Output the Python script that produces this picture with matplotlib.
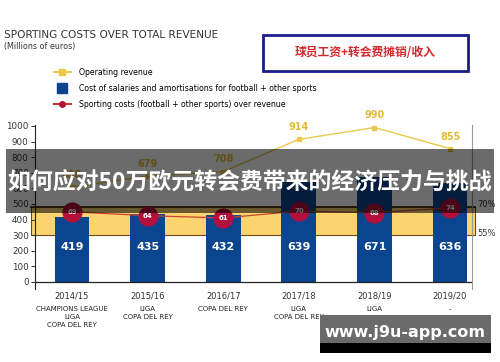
import matplotlib.pyplot as plt
from matplotlib.patches import Rectangle
from matplotlib.lines import Line2D
from matplotlib import transforms

seasons = ['2014/15', '2015/16', '2016/17', '2017/18', '2018/19', '2019/20']
titles = ['CHAMPIONS LEAGUE\nLIGA\nCOPA DEL REY', 'LIGA\nCOPA DEL REY', 'COPA DEL REY',
          'LIGA\nCOPA DEL REY', 'LIGA', '-']
revenue = [608, 679, 708, 914, 990, 855]
salaries = [419, 435, 432, 639, 671, 636]
ratio = [69, 64, 61, 70, 68, 74]
band_low, band_high = 300, 480

plt.rcParams['font.family'] = ['Liberation Sans Narrow', 'DejaVu Sans']

blue = '#0b4590'
yellow = '#e9c84c'
red = '#b3113c'

fig = plt.figure(figsize=(5, 3.62), dpi=100)
ax = fig.add_axes([0.07, 0.2017, 0.874, 0.4525])
x = list(range(len(seasons)))

# band 55% - 70%
ax.add_patch(Rectangle((-0.54, band_low), 5.87, band_high - band_low, facecolor='#fbd46f',
                       edgecolor='#6b4a16', lw=0.8, zorder=1, clip_on=False))
ax.plot([-0.54, 5.33], [band_high, band_high], color='#4a3010', lw=1.3, zorder=1.5, clip_on=False)

ax.bar(x, salaries, width=0.46, color=blue, zorder=2)
for i, v in enumerate(salaries):
    ax.text(i, 225, str(v), ha='center', va='center', color='white', fontsize=8,
            fontweight='bold', zorder=5)

ax.plot(x, revenue, color=yellow, lw=1, marker='s', ms=3.5, zorder=3)
for i, v in enumerate(revenue):
    ax.text(i, v + 45, str(v), ha='center', va='bottom', color='#e2bb35', fontsize=7,
            fontweight='bold', zorder=3)

ax.axhline(0, color='#222222', lw=0.9, zorder=4)
ax.set_xlim(-0.49, 5.29)
ax.set_ylim(-45, 1005)
ax.set_yticks(range(0, 1001, 100))
ax.tick_params(axis='y', labelsize=6.3, length=3, width=0.7, colors='#333333', pad=1.5)
ax.set_xticks(x)
ax.set_xticklabels(seasons)
ax.tick_params(axis='x', labelsize=6, length=0, pad=2, colors='#333333')
ax.spines['top'].set_visible(False)
ax.spines['bottom'].set_visible(False)
ax.spines['left'].set_color('#222222')
ax.spines['left'].set_linewidth(0.8)
ax.spines['right'].set_color('#9a9a9a')
ax.spines['right'].set_linewidth(0.8)

trans = transforms.blended_transform_factory(ax.transData, ax.transAxes)
for i, t in enumerate(titles):
    ax.text(i, -0.105, t, transform=trans, ha='center', va='top', fontsize=5,
            color='#222222', linespacing=1.35)

ax.text(1.012, 0.515, '70%', transform=ax.transAxes, fontsize=6, color='#333333', va='center')
ax.text(1.012, 0.34, '55%', transform=ax.transAxes, fontsize=6, color='#333333', va='center')

# ratio line on a second scale
ax2 = ax.twinx()
ax2.set_ylim(-31.5, 181.9)
ax2.plot(x, ratio, color='#c8452d', lw=0.9, marker='o', ms=13.5, mfc=red, mec=red, zorder=6)
for i, v in enumerate(ratio):
    ax2.text(i, v, str(v), ha='center', va='center', color='white', fontsize=5,
             fontweight='bold', zorder=7)
ax2.set_yticks([])
for sp in ax2.spines.values():
    sp.set_visible(False)

# titles
fig.text(4 / 500, 1 - 35 / 362, 'SPORTING COSTS OVER TOTAL REVENUE', fontsize=7.6,
         color='#333333', va='center')
fig.text(4 / 500, 1 - 47 / 362, '(Millions of euros)', fontsize=5.8, color='#333333', va='center')

handles = [Line2D([], [], color=yellow, lw=1.5, marker='s', ms=4),
           Line2D([], [], color=blue, lw=0, marker='s', ms=7),
           Line2D([], [], color='#c8372d', lw=1.5, marker='o', ms=4, mfc=red, mec=red)]
labels = ['Operating revenue',
          'Cost of salaries and amortisations for football + other sports',
          'Sporting costs (football + other sports) over revenue']
fig.legend(handles, labels, loc='upper left', bbox_to_anchor=(50 / 500, 1 - 64 / 362),
           frameon=False, fontsize=5.6, labelspacing=0.9, handlelength=2.2,
           handletextpad=1.0, borderpad=0)

fig.patches.append(Rectangle((263 / 500, 1 - 71 / 362), 205 / 500, 36 / 362,
                             transform=fig.transFigure, facecolor='white',
                             edgecolor='#1c1c8a', lw=2))
fig.text(365 / 500, 1 - 53 / 362, '球员工资+转会费摊销/收入', fontsize=8.5, color='#d6282c',
         fontweight='bold', ha='center', va='center', family=['Noto Sans CJK SC', 'DejaVu Sans'])

# overlay banner
fig.patches.append(Rectangle((6 / 500, 1 - 213 / 362), 488 / 500, 64 / 362,
                             transform=fig.transFigure, facecolor='black', alpha=0.58,
                             edgecolor='none', zorder=10))
fig.text(250 / 500, 1 - 183 / 362, '如何应对50万欧元转会费带来的经济压力与挑战', fontsize=16.5,
         color='white', fontweight='bold', ha='center', va='center', zorder=11,
         family=['Noto Sans CJK SC', 'DejaVu Sans'])

# watermark
fig.patches.append(Rectangle((320 / 500, 1 - 353 / 362), 171 / 500, 10 / 362,
                             transform=fig.transFigure, facecolor='black', zorder=10))
fig.patches.append(Rectangle((320 / 500, 1 - 343 / 362), 171 / 500, 28 / 362,
                             transform=fig.transFigure, facecolor='#6b6b6b', zorder=10))
fig.text(405 / 500, 1 - 333 / 362, 'www.j9u-app.com', fontsize=11.5, color='white',
         fontweight='bold', ha='center', va='center', zorder=11, family='DejaVu Sans')

fig.savefig('out.png', dpi=100)
